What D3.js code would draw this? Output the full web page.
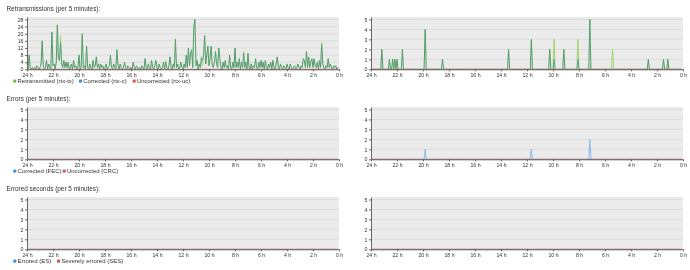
<!DOCTYPE html>
<html><head><meta charset="utf-8">
<script src="https://cdn.jsdelivr.net/npm/d3@7"></script>
<style>
body{margin:0;background:#fff;}
svg{display:block;font-family:"Liberation Sans",Arial,sans-serif;}
</style>
</head><body>
<svg id="c" width="690" height="270"></svg>
<script>
// ---------- DATA ----------
const xTickHours = [24,22,20,18,16,14,12,10,8,6,4,2,0];
const yTicksRetransLeft = [0,4,8,12,16,20,24,28];
const yTicksSmall = [0,1,2,3,4,5];

// Left retransmissions chart, 288 samples (5 min), from 24 h ago to now
const rtxTxLeft = [
 1,0,8,1,0,1,0,1,0,2,1,0,1,3,16,2,0,1,5,0,3,1,0,21,
 2,3,0,4,25,6,5,19,3,1,5,1,4,1,4,0,1,3,0,5,1,2,0,1,
 8,0,1,20,1,2,0,13,1,0,3,1,0,5,1,2,7,1,3,0,3,1,2,0,
 1,3,0,1,2,8,1,0,3,1,0,11,2,0,3,1,0,1,4,1,0,2,1,0,
 1,0,4,1,0,2,1,0,1,0,2,1,0,6,1,0,3,1,0,5,1,0,2,5,
 1,0,3,1,0,1,4,0,5,1,0,2,7,1,0,3,1,17,1,3,0,1,4,1,
 0,3,1,8,1,12,2,9,11,1,24,28,2,5,0,3,1,6,2,8,19,3,8,13,
 2,6,13,2,1,4,10,3,1,12,6,1,0,4,1,5,1,2,0,8,1,0,4,1,
 12,1,4,1,6,0,4,1,10,1,4,0,9,1,0,3,0,2,1,6,1,0,4,1,
 5,1,4,0,5,1,0,3,1,4,0,5,1,0,3,7,1,0,3,1,0,2,1,0,
 3,1,0,3,1,0,1,2,0,1,3,1,0,2,1,6,5,1,10,1,7,1,4,6,
 1,6,2,1,4,0,5,1,15,3,1,0,2,1,6,1,3,1,0,2,1,2,0,1
];
const rtxCLeft = [
 1,0,8,1,0,1,0,1,0,2,1,0,1,3,16,2,0,1,5,0,3,1,0,21,
 2,3,0,4,25,6,5,15,3,1,5,1,4,1,4,0,1,3,0,5,1,2,0,1,
 8,0,1,20,1,2,0,13,1,0,3,1,0,5,1,2,7,1,3,0,3,1,2,0,
 1,3,0,1,2,8,1,0,3,1,0,11,2,0,3,1,0,1,4,1,0,2,1,0,
 1,0,4,1,0,2,1,0,1,0,2,1,0,6,1,0,3,1,0,5,1,0,2,5,
 1,0,3,1,0,1,4,0,4,1,0,2,7,1,0,3,1,17,1,3,0,1,4,1,
 0,3,1,8,1,12,2,9,11,1,24,28,2,5,0,3,1,7,5,8,19,3,8,13,
 2,6,13,2,1,4,10,3,1,12,6,1,0,4,1,5,1,2,0,8,1,0,4,1,
 12,1,4,1,6,0,4,1,9,1,4,0,9,1,0,3,0,2,1,6,1,0,4,1,
 5,1,4,0,5,1,0,3,1,4,0,5,1,0,3,7,1,0,3,1,0,2,1,0,
 3,1,0,3,1,0,1,2,0,1,3,1,0,2,1,6,5,1,10,1,7,1,4,6,
 1,6,2,1,4,0,5,1,14,3,1,0,2,1,6,1,3,1,0,2,1,2,0,1
];

// Right charts: non-zero samples as [sample index, value]; all other samples are 0
const rtxTxRightNonZero = [[10,2],[17,1],[20,1],[22,1],[24,1],[29,2],[50,4],[66,1],[127,2],[148,3],
  [165,2],[169,3],[178,2],[191,3],[202,5],[223,2],[256,1],[270,1],[274,1]];
const rtxCRightNonZero = [[10,2],[17,1],[20,1],[22,1],[24,1],[29,2],[50,4],[66,1],[127,2],[148,3],
  [165,2],[169,1],[178,2],[191,1],[202,5],[256,1],[270,1],[274,1]];
const fecRightNonZero = [[50,1],[148,1],[202,2]];

const SAMPLES = 288;
function expand(pairs){ const a = new Array(SAMPLES).fill(0); pairs.forEach(([i,v])=>a[i]=v); return a; }
const zeros = new Array(SAMPLES).fill(0);

// ---------- STYLE ----------
const C_GREEN = "#a2d66e", C_BLUE = "#86bcec", C_RED = "#c9655f";
const C_GREEN_LEG = "#6cbf3c", C_BLUE_LEG = "#3a8fe0", C_RED_LEG = "#d9534f";

const svg = d3.select("#c");
const cols = [{x0:27, x1:339}, {x0:371, x1:683}];

function panel(col, off, series, yTicks, yMaxBase){
  const {x0,x1} = cols[col];
  const top = off + 17, bot = off + 69.3;
  const x = d3.scaleLinear().domain([24,0]).range([x0,x1]);
  const maxV = Math.max(yMaxBase, d3.max(series, s=>d3.max(s.values)));
  const y = d3.scaleLinear().domain([0, maxV*1.05]).range([bot, top]);
  const g = svg.append("g");
  g.append("rect").attr("x",x0).attr("y",top).attr("width",x1-x0).attr("height",bot-top).attr("fill","#ebebeb");
  g.selectAll("line.grid").data(yTicks.filter(d=>d>0)).join("line")
    .attr("x1",x0).attr("x2",x1).attr("y1",d=>y(d)).attr("y2",d=>y(d))
    .attr("stroke","#dcdcdc").attr("stroke-width",1);
  const line = d3.line().x((d,i)=>x(24 - i*5/60)).y(d=>y(d));
  series.forEach(s=>{
    g.append("path").attr("d", line(s.values)).attr("fill","none")
      .attr("stroke", s.color).attr("stroke-width",1)
      .style("mix-blend-mode", s.blend || "normal");
  });
  const ya = g.append("g").attr("transform",`translate(${x0},0)`)
    .call(d3.axisLeft(y).tickValues(yTicks).tickFormat(d3.format("d")).tickSize(2).tickSizeOuter(0).tickPadding(1.5));
  const xa = g.append("g").attr("transform",`translate(0,${bot})`)
    .call(d3.axisBottom(x).tickValues(xTickHours).tickFormat(d=>d+" h").tickSize(2).tickSizeOuter(0).tickPadding(2));
  [ya,xa].forEach(a=>{
    a.selectAll("path,line").attr("stroke","#666");
    a.selectAll("text").attr("font-size","5.2px").attr("fill","#333").attr("font-family","Liberation Sans, Arial, sans-serif");
  });
}

function title(off, text){
  svg.append("text").attr("x",6.5).attr("y",off+10.5).attr("font-size","6.4px").attr("fill","#333").text(text);
}
function legend(off, items){
  items.forEach(([label,color,xp])=>{
    svg.append("rect").attr("x",xp).attr("y",off+79.6).attr("width",3).attr("height",3).attr("fill",color);
    svg.append("text").attr("x",xp+4.2).attr("y",off+83.1).attr("font-size","6px").attr("fill","#333").text(label);
  });
}

// Row 1: retransmissions
title(0, "Retransmissions (per 5 minutes):");
panel(0, 0, [
  {values: rtxTxLeft, color: C_GREEN},
  {values: rtxCLeft, color: C_BLUE, blend:"multiply"},
  {values: zeros, color: C_RED}
], yTicksRetransLeft, 5);
panel(1, 0, [
  {values: expand(rtxTxRightNonZero), color: C_GREEN},
  {values: expand(rtxCRightNonZero), color: C_BLUE, blend:"multiply"},
  {values: zeros, color: C_RED}
], yTicksSmall, 5);
legend(0, [["Retransmitted (rtx-tx)", C_GREEN_LEG, 13.3], ["Corrected (rtx-c)", C_BLUE_LEG, 79], ["Uncorrected (rtx-uc)", C_RED_LEG, 132.7]]);

// Row 2: errors
title(90, "Errors (per 5 minutes):");
panel(0, 90, [
  {values: zeros, color: C_BLUE},
  {values: zeros, color: C_RED}
], yTicksSmall, 5);
panel(1, 90, [
  {values: expand(fecRightNonZero), color: C_BLUE},
  {values: zeros, color: C_RED}
], yTicksSmall, 5);
legend(90, [["Corrected (FEC)", C_BLUE_LEG, 13.3], ["Uncorrected (CRC)", C_RED_LEG, 62.7]]);

// Row 3: errored seconds
title(180, "Errored seconds (per 5 minutes):");
panel(0, 180, [
  {values: zeros, color: C_BLUE},
  {values: zeros, color: C_RED}
], yTicksSmall, 5);
panel(1, 180, [
  {values: zeros, color: C_BLUE},
  {values: zeros, color: C_RED}
], yTicksSmall, 5);
legend(180, [["Errored (ES)", C_BLUE_LEG, 13.3], ["Severely errored (SES)", C_RED_LEG, 57]]);
</script>
</body></html>
